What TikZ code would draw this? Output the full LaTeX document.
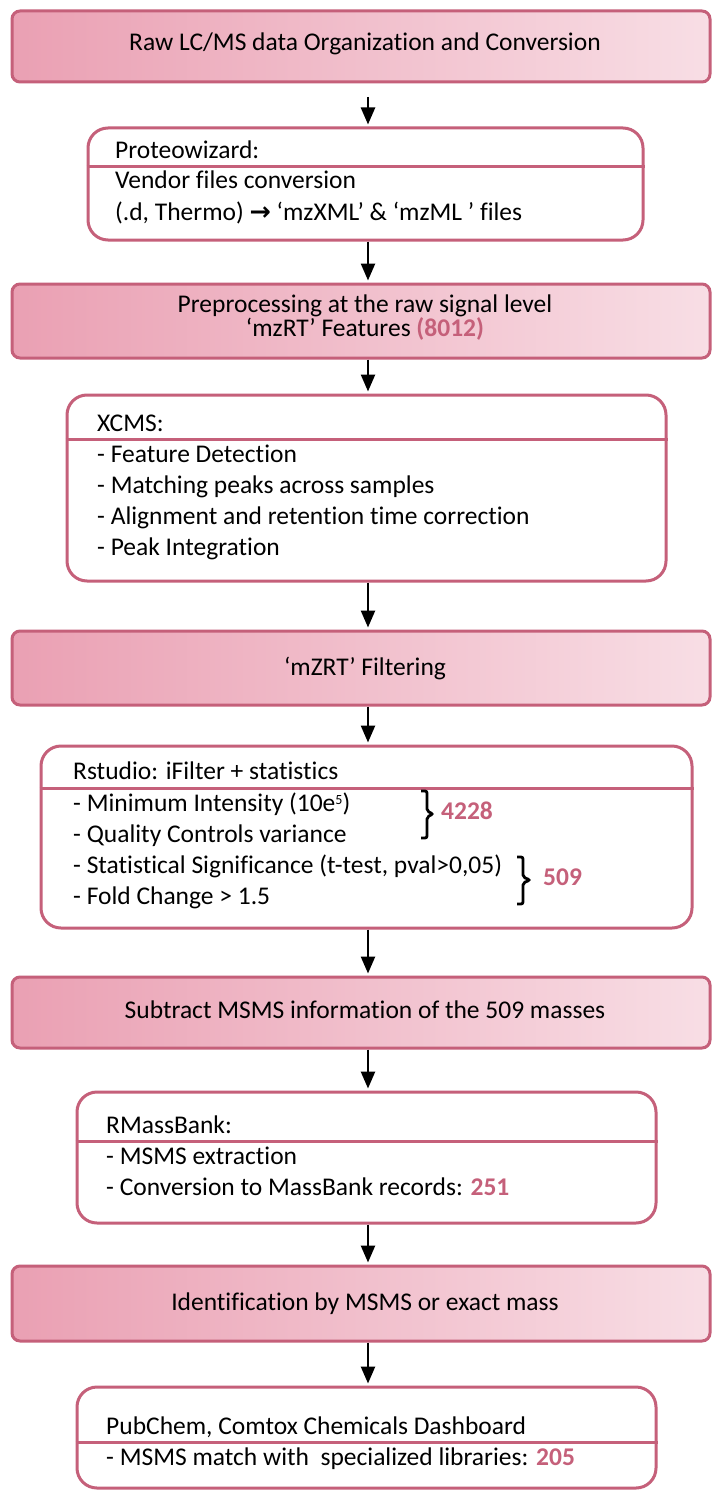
\documentclass[tikz,border=0pt]{standalone}
\usepackage{fontspec}
\setmainfont{Carlito}[Ligatures=NoCommon]
\newfontfamily\arrowfont{DejaVu Sans}
\usetikzlibrary{arrows.meta,calc}
\definecolor{rose}{RGB}{197,96,122}
\definecolor{bandL}{RGB}{234,160,179}
\definecolor{bandR}{RGB}{248,222,229}
\newcommand{\supfive}{\raisebox{7pt}{\fontsize{14}{14}\selectfont 5}}
\begin{document}
\begin{tikzpicture}[x=1pt,y=-1pt,
  band/.style={draw=rose, line width=3pt, rounded corners=8pt, left color=bandL, right color=bandR, minimum width=698pt, inner sep=0pt},
  stage/.style={draw=rose, line width=3pt, rounded corners=20pt, fill=white, inner sep=0pt},
  txt/.style={anchor=west, inner sep=0pt, font=\fontsize{25.5}{31}\selectfont, text height=18pt, text depth=6pt},
  btxt/.style={anchor=center, inner sep=0pt, font=\fontsize{25.5}{31}\selectfont, text height=18pt, text depth=6pt},
  num/.style={anchor=west, inner sep=0pt, font=\fontsize{25.5}{31}\selectfont\bfseries, text=rose, text height=18pt, text depth=6pt},
  divider/.style={draw=rose, line width=3pt},
  flow/.style={line width=2.5pt, shorten >=2pt, -{Triangle[width=14pt,length=17pt]}},
  brk/.style={line width=2.8pt, rounded corners=2pt}
]
\useasboundingbox (0,0) rectangle (712,1490);
\fill[white] (0,0) rectangle (712,1490);
\coordinate (ax) at (368,0);

% ---- bands ----
\node[band, minimum height=71pt] (n1) at (361,46.5) {};
\node[btxt] (n1t) at (365,45) {Raw LC/MS data Organization and Conversion};

\node[band, minimum height=74pt] (n2) at (361,321) {};
\node[btxt] (n2t) at (365,306) {Preprocessing at the raw signal level};
\node[btxt] (n2u) at (365,330) {‘mzRT’ Features \textcolor{rose}{\textbf{(8012)}}};

\node[band, minimum height=74pt] (n3) at (361,668) {};
\node[btxt] (n3t) at (365,669) {‘mZRT’ Filtering};

\node[band, minimum height=71pt] (n4) at (361,1012.5) {};
\node[btxt] (n4t) at (365,1012) {Subtract MSMS information of the 509 masses};

\node[band, minimum height=75pt] (n5) at (361,1303.5) {};
\node[btxt] (n5t) at (365,1304) {Identification by MSMS or exact mass};

% ---- boxes ----
\node[stage, minimum width=555pt, minimum height=112pt] (b2) at (365.5,184) {};
\coordinate (d2) at (0,167);
\draw[divider] (b2.west |- d2) -- (b2.east |- d2);
\node[txt] (b2h) at (115,153) {Proteowizard:};
\node[txt] (b2a) at (115,183) {Vendor files conversion};
\node[txt] (b2b) at (115,214) {(.d, Thermo) {\arrowfont\bfseries →} ‘mzXML’ \& ‘mzML ’ files};

\node[stage, minimum width=599pt, minimum height=186pt] (b3) at (366.5,488) {};
\coordinate (d3) at (0,439);
\draw[divider] (b3.west |- d3) -- (b3.east |- d3);
\node[txt] (b3h) at (97,425) {XCMS:};
\node[txt] (b3a) at (97,456) {- Feature Detection};
\node[txt] (b3b) at (97,487) {- Matching peaks across samples};
\node[txt] (b3c) at (97,518) {- Alignment and retention time correction};
\node[txt] (b3d) at (97,549) {- Peak Integration};

\node[stage, minimum width=651pt, minimum height=182pt] (b4) at (366.5,837) {};
\coordinate (d4) at (0,788);
\draw[divider] (b4.west |- d4) -- (b4.east |- d4);
\node[txt] (b4h) at (73,773) {Rstudio: iFilter + statistics};
\node[txt] (b4a) at (73,805) {- Minimum Intensity (10e\supfive)};
\node[txt] (b4b) at (73,836) {- Quality Controls variance};
\node[txt] (b4c) at (73,867) {- Statistical Significance (t-test, pval>0,05)};
\node[txt] (b4d) at (73,898) {- Fold Change > 1.5};
\draw[brk] (421,791) -- (427,791) -- (427,811) -- (433,814) -- (427,817) -- (427,838) -- (421,838);
\node[num] (k1) at (441,813) {4228};
\draw[brk] (517,857) -- (523,857) -- (523,877) -- (530,880) -- (523,883) -- (523,904) -- (517,904);
\node[num] (k2) at (543,879) {509};

\node[stage, minimum width=579pt, minimum height=131pt] (b5) at (366.5,1157.5) {};
\coordinate (d5) at (0,1141);
\draw[divider] (b5.west |- d5) -- (b5.east |- d5);
\node[txt] (b5h) at (106,1127) {RMassBank:};
\node[txt] (b5a) at (106,1158) {- MSMS extraction};
\node[txt] (b5b) at (106,1189) {- Conversion to MassBank records: \textcolor{rose}{\textbf{251}}};

\node[stage, minimum width=579pt, minimum height=101pt] (b6) at (366.5,1437.5) {};
\coordinate (d6) at (0,1442);
\draw[divider] (b6.west |- d6) -- (b6.east |- d6);
\node[txt] (b6h) at (106,1428) {PubChem, Comtox Chemicals Dashboard};
\node[txt] (b6a) at (106,1459) {- MSMS match with\ \ specialized libraries: \textcolor{rose}{\textbf{205}}};

% ---- arrows ----
\coordinate (a1s) at (368,97);
\draw[flow] (a1s) -- (b2.north -| ax);
\draw[flow] (b2.south -| ax) -- (n2.north -| ax);
\draw[flow] (n2.south -| ax) -- (b3.north -| ax);
\draw[flow] (b3.south -| ax) -- (n3.north -| ax);
\draw[flow] (n3.south -| ax) -- (b4.north -| ax);
\draw[flow] (b4.south -| ax) -- (n4.north -| ax);
\draw[flow] (n4.south -| ax) -- (b5.north -| ax);
\draw[flow] (b5.south -| ax) -- (n5.north -| ax);
\draw[flow] (n5.south -| ax) -- (b6.north -| ax);
\end{tikzpicture}
\end{document}
